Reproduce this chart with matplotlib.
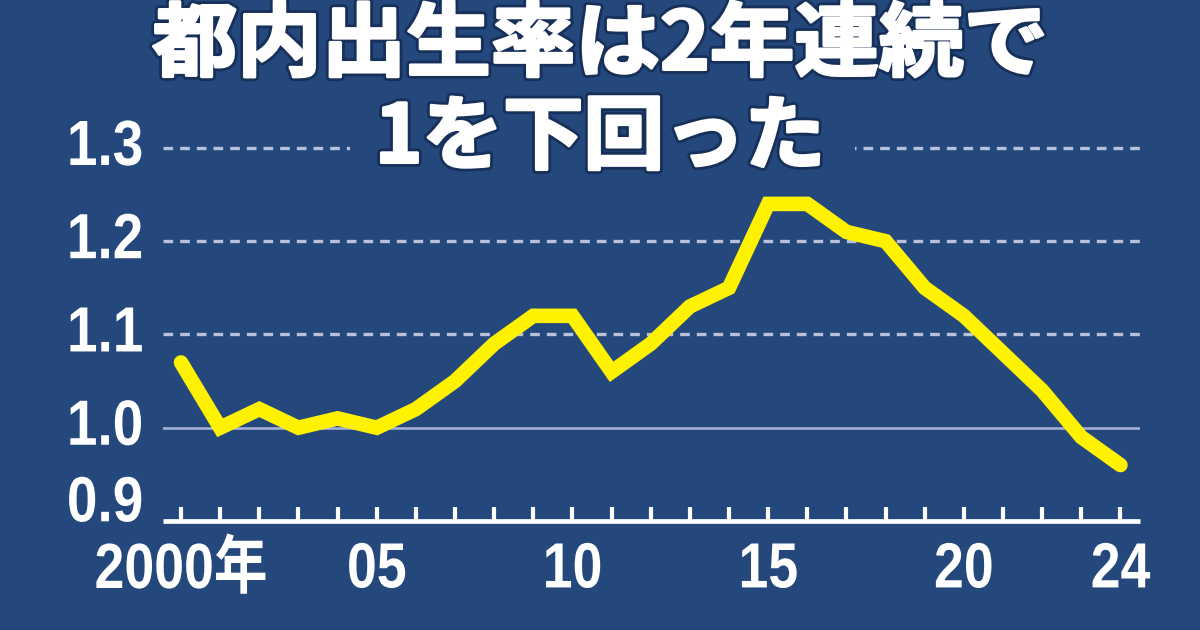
import matplotlib
matplotlib.use("Agg")
import matplotlib.pyplot as plt
import matplotlib.patheffects as pe
from matplotlib.transforms import Affine2D, ScaledTranslation
from matplotlib.patches import Rectangle
import numpy as np

years = list(range(2000, 2025))
tfr = [1.07, 1.00, 1.02, 1.00, 1.01, 1.00, 1.02, 1.05, 1.09, 1.12, 1.12, 1.06, 1.09,
       1.13, 1.15, 1.24, 1.24, 1.21, 1.20, 1.15, 1.12, 1.08, 1.04, 0.99, 0.96]
ytick_vals = [0.9, 1.0, 1.1, 1.2, 1.3]
ytick_labels = ["0.9", "1.0", "1.1", "1.2", "1.3"]
xlabel_years = [2000, 2005, 2010, 2015, 2020, 2024]
xlabel_texts = ["2000年", "05", "10", "15", "20", "24"]
title1 = "都内出生率は2年連続で"
title2 = "1を下回った"

BG = "#24487c"
YEL = "#fff200"
GRID = "#b8c0da"

num_family = ["Liberation Sans", "Noto Sans CJK JP", "DejaVu Sans"]
cjk_family = ["Noto Sans CJK JP", "DejaVu Sans"]


class Squeeze(pe.AbstractPathEffect):
    """Horizontally condense glyph paths around an anchor, optional outlines."""
    def __init__(self, sx, anchor="center", strokes=()):
        super().__init__()
        self.sx = sx
        self.anchor = anchor
        self.strokes = strokes

    def draw_path(self, renderer, gc, tpath, affine, rgbFace=None):
        ext = tpath.get_extents()
        if self.anchor == "right":
            a = ext.x1
        elif self.anchor == "left":
            a = ext.x0
        else:
            a = 0.5 * (ext.x0 + ext.x1)
        t = Affine2D().translate(-a, 0).scale(self.sx, 1).translate(a, 0) + affine
        for lw, col in self.strokes:
            gc0 = renderer.new_gc()
            gc0.copy_properties(gc)
            gc0.set_linewidth(renderer.points_to_pixels(lw))
            gc0.set_foreground(col)
            gc0.set_joinstyle("round")
            renderer.draw_path(gc0, tpath, t, None)
            gc0.restore()
        renderer.draw_path(gc, tpath, t, rgbFace)


fig = plt.figure(figsize=(12, 6.3), dpi=100, facecolor=BG)
ax = fig.add_axes([163/1200, 1-521/630, (1140-163)/1200, (521-129.3)/630])
ax.set_facecolor(BG)
ax.set_xlim(1999.54, 2024.5)
ax.set_ylim(0.9, 1.32)

for v in ytick_vals[1:]:
    if v == 1.0:
        ax.axhline(v, color="#aab3d6", lw=1.8, zorder=1)
    else:
        ax.axhline(v, color=GRID, lw=2.4, ls=(0, (2.9, 2.1)), zorder=1)

ax.plot(years, tfr, color=YEL, lw=10.5, solid_capstyle="round", solid_joinstyle="miter", zorder=3)

for s in ["left", "right", "top"]:
    ax.spines[s].set_visible(False)
ax.spines["bottom"].set_color("white")
ax.spines["bottom"].set_linewidth(3.4)
ax.spines["bottom"].set_capstyle("butt")

ax.set_xticks(years)
ax.set_xticklabels([xlabel_texts[xlabel_years.index(y)] if y in xlabel_years else "" for y in years])
ax.tick_params(axis="x", direction="in", length=10, width=3, color="white", labelcolor="white",
               labelsize=46, pad=14)
for t in ax.get_xticklabels():
    t.set_family(num_family)
    t.set_fontweight("bold")
    t.set_path_effects([Squeeze(0.84, "center")])

ax.set_yticks(ytick_vals)
ax.set_yticklabels(ytick_labels)
ax.tick_params(axis="y", length=0, labelcolor="white", labelsize=46, pad=14)
for i, t in enumerate(ax.get_yticklabels()):
    t.set_family(num_family)
    t.set_fontweight("bold")
    t.set_verticalalignment("center")
    t.set_path_effects([Squeeze(0.86, "right")])
    if i == 0:
        t.set_transform(t.get_transform() + ScaledTranslation(0, 12/72, fig.dpi_scale_trans))

# gap in the top grid line behind the second title line
fig.patches.append(Rectangle((350/1200, 1-158/630), (855-350)/1200, 20/630,
                             transform=fig.transFigure, facecolor=BG, edgecolor="none", zorder=2))

title_strokes = ((4.5, "#16305a"), (1.6, "white"))
fig.text(0.5, 1-46/630, title1, ha="center", va="center", color="white", fontsize=58,
         fontweight="bold", family=cjk_family, zorder=5,
         path_effects=[Squeeze(1.05, "center", title_strokes)])
fig.text(0.5, 1-139/630, title2, ha="center", va="center", color="white", fontsize=58,
         fontweight="bold", family=cjk_family, zorder=5,
         path_effects=[Squeeze(1.0, "center", title_strokes)])

fig.savefig("out.png", dpi=100, facecolor=BG)
